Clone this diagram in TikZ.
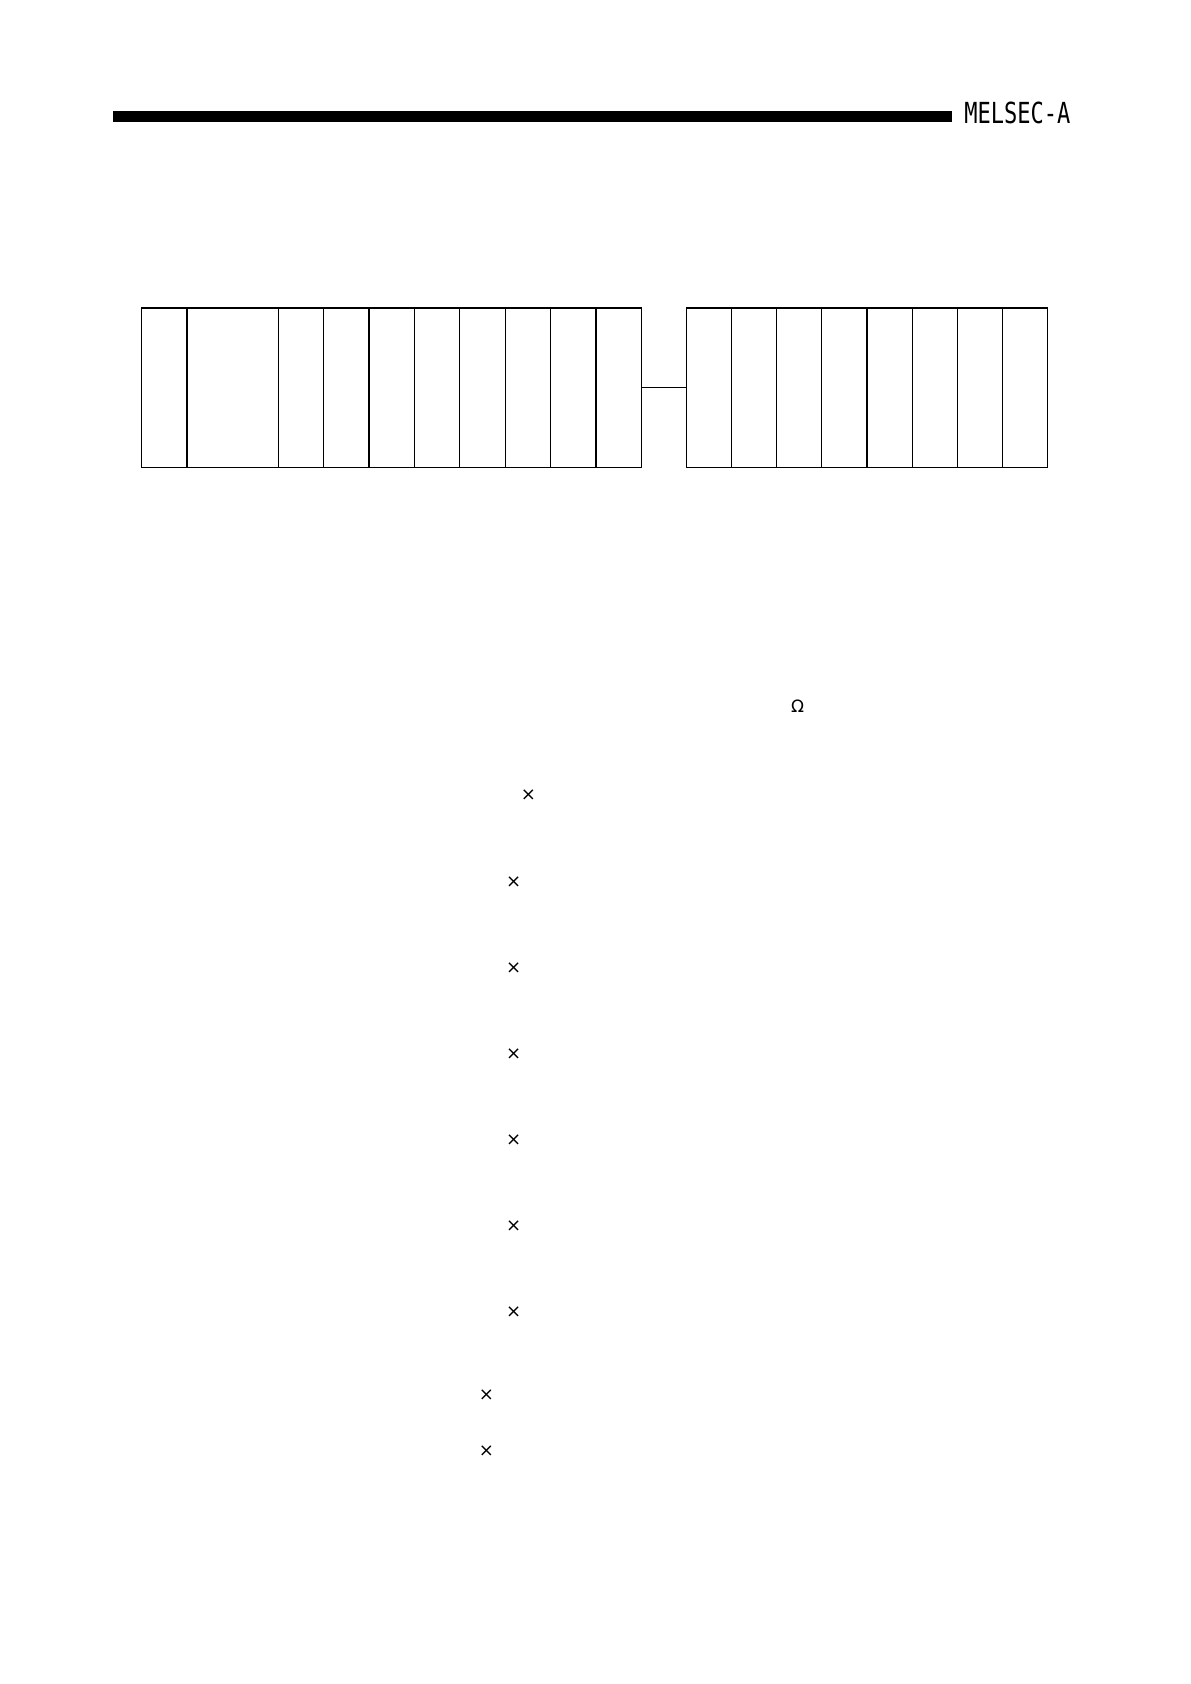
\documentclass[tikz,border=0pt]{standalone}
\usepackage{fontspec}
\newfontfamily\symfont{DejaVu Sans}
\newfontfamily\headfont{DejaVu Sans Mono}
\usetikzlibrary{matrix,positioning}

\begin{document}
\begin{tikzpicture}
    [x=0.5pt,y=-0.5pt,
    rack/.style={
        matrix of nodes,
        nodes in empty cells,
        column sep=-0.6pt,
        inner sep=0pt,
        anchor=north west,
        nodes={
            draw,
            line width=0.6pt,
            outer sep=0pt,
            inner sep=0pt,
            minimum width=#1,
            minimum height=79.6pt
        }
    },
    rack/.default={22.7pt},
    cpu slot/.style={minimum width=45.6pt},
    times note/.style={font=\symfont\fontsize{9}{10}\selectfont,inner sep=0pt},
    ohm note/.style={font=\symfont\fontsize{8.5}{9}\selectfont,inner sep=0pt},
    series note/.style={font=\headfont\fontsize{14.5}{15}\selectfont,xscale=0.76,anchor=west,inner sep=0pt}]

    \useasboundingbox (0,0) rectangle (1190,1684);

    %%% header
    \fill (113,111) rectangle (952,122);
    \node (series) [series note] at (964,112.5) {MELSEC-A};

    %%% content
    \matrix (mainBase) [rack] at (140.5,307) {
        & |[cpu slot]| & & & & & & & & \\
    };

    \matrix (extBase) [rack={22.6pt}, right=21.4pt of mainBase] {
        & & & & & & & \\
    };

    %% lines
    \draw[line width=0.6pt] (mainBase-1-10.east) -- (extBase-1-1.west);

    %% marks
    \node (ohm) [ohm note] at (797.5,706) {Ω};
    \node (times0) [times note] at (528.5,795.5) {×};
    \foreach \i/\y in {1/882.2,2/968.1,3/1054.1,4/1140.1,5/1226.0,6/1312.0}
        \node (times\i) [times note] at (513.6,\y) {×};
    \node (times7) [times note] at (486.5,1395.5) {×};
    \node (times8) [times note] at (486.5,1451.5) {×};
\end{tikzpicture}
\end{document}
